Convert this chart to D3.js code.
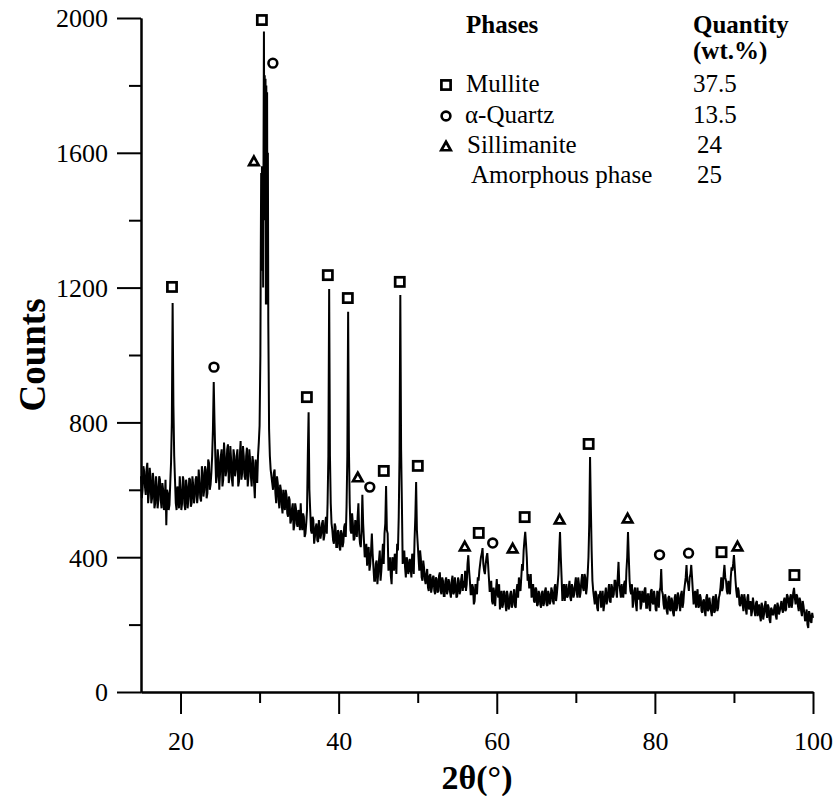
<!DOCTYPE html>
<html>
<head>
<meta charset="utf-8">
<script src="https://cdn.jsdelivr.net/npm/d3@7"></script>
<style>
  html, body { margin: 0; padding: 0; background: #fff; }
  svg { display: block; }
  svg text { font-family: 'Liberation Serif', 'Times New Roman', serif; fill: #000; }
</style>
</head>
<body>
<svg id="chart" width="838" height="796"></svg>
<script>
// ---------- DATA ----------
// scan samples at 15.0, 15.2, 15.4 ... 100.0 (°2θ)
const gridStart = 15, gridStep = 0.2;
const counts = [
  640, 600, 655, 585, 680,   590, 640, 575, 625, 560,   610, 570, 630, 545, 600,   560, 495, 590, 555, 680,
  1154, 700, 560, 610, 545,  600, 560, 625, 540, 610,   575, 630, 560, 615, 580,   640, 585, 620, 565, 650,
  600, 660, 590, 680, 615,   700, 920, 700, 640, 690,   650, 720, 630, 700, 655,   735, 640, 690, 610, 700,
  660, 720, 625, 745, 650,   700, 630, 725, 640, 690,   610, 680, 575, 660, 700,   790, 1540, 1500, 1500, 1150,
  1150, 780, 660, 620, 650,  590, 640, 570, 615, 555,   600, 540, 585, 520, 570,   510, 560, 495, 545, 490,
  530, 560, 480, 520, 470,   540, 830, 540, 470, 510,   460, 500, 445, 490, 470,   510, 465, 520, 560, 1196,
  560, 480, 440, 490, 430,   475, 420, 470, 445, 500,   550, 1128, 560, 470, 500,  455, 500, 520, 470, 430,
  585, 450, 410, 375, 430,   380, 470, 370, 330, 390,   350, 420, 360, 440, 470,   611, 470, 380, 345, 400,
  360, 400, 440, 520, 1178,  560, 410, 370, 400, 350,   395, 340, 400, 450, 623,   440, 360, 395, 330, 370,
  320, 365, 300, 350, 310,   345, 290, 335, 300, 355,   290, 330, 285, 340, 300,   325, 280, 345, 295, 320,
  285, 330, 300, 350, 330,   360, 320, 406, 330, 290,   310, 270, 300, 340, 360,   400, 427, 360, 380, 412,
  340, 300, 270, 310, 255,   335, 280, 245, 300, 260,   295, 240, 285, 255, 300,   260, 305, 250, 320, 340,
  300, 380, 420, 475, 400,   350, 310, 280, 320, 265,   305, 260, 290, 250, 300,   265, 310, 255, 290, 270,
  300, 260, 320, 290, 350,   475, 340, 300, 270, 320,   285, 330, 270, 310, 290,   340, 280, 320, 295, 350,
  300, 340, 310, 400, 697,   420, 300, 260, 290, 240,   280, 250, 300, 260, 310,   275, 320, 265, 310, 290,
  330, 280, 386, 300, 320,   280, 330, 360, 475, 330,   290, 250, 300, 260, 310,   275, 245, 300, 265, 310,
  250, 290, 240, 305, 260,   280, 240, 290, 300, 365,   290, 245, 275, 230, 285,   240, 270, 225, 290, 250,
  285, 240, 300, 265, 320,   377, 320, 340, 377, 300,   290, 250, 305, 255, 280,   235, 275, 225, 290, 245,
  260, 225, 285, 240, 275,   250, 290, 340, 310, 377,   330, 290, 310, 340, 360,   406, 330, 280, 300, 255,
  290, 240, 275, 230, 290,   250, 225, 280, 240, 265,   225, 260, 210, 255, 230,   270, 220, 250, 205, 245,
  230, 260, 215, 255, 240,   270, 235, 280, 245, 285,   250, 290, 265, 309, 260,   285, 240, 270, 225, 255,
  210, 245, 190, 230, 205,
  220
];
// intermediate samples at 15.1, 15.3 ... 99.9 (°2θ)
const midStart = 15.1, midStep = 0.2;
const countsMid = [
  575, 670, 610, 660, 560,   665, 560, 650, 545, 640,   545, 640, 570, 620, 540,   630, 600, 540, 620, 800,
  850, 630, 540, 590, 640,   540, 640, 555, 630, 545,   635, 550, 640, 560, 630,   560, 660, 575, 670, 580,
  670, 575, 690, 600, 650,   780, 800, 620, 720, 600,   700, 610, 740, 640, 720,   620, 730, 630, 720, 640,
  700, 610, 700, 630, 730,   640, 700, 610, 720, 640,   700, 620, 690, 620, 740,   1000, 1560, 1600, 1400, 1300,
  1100, 700, 640, 600, 660,  560, 620, 545, 600, 530,   560, 600, 530, 580, 500,   545, 480, 560, 500, 540,
  480, 500, 530, 460, 500,   700, 600, 480, 520, 440,   490, 450, 510, 455, 500,   450, 500, 470, 700, 700,
  500, 450, 500, 430, 480,   430, 480, 430, 490, 460,   700, 720, 480, 530, 450,   510, 460, 560, 440, 480,
  500, 400, 440, 420, 360,   420, 410, 330, 380, 320,   390, 330, 400, 380, 500,   480, 360, 400, 320, 380,
  410, 350, 420, 700, 720,   380, 420, 340, 390, 360,   370, 410, 350, 520, 480,   400, 420, 340, 390, 335,
  350, 310, 345, 295, 340,   300, 340, 295, 345, 300,   340, 285, 330, 290, 335,   295, 330, 290, 340, 280,
  340, 290, 335, 300, 310,   300, 380, 360, 290, 320,   260, 320, 290, 330, 380,   410, 380, 350, 400, 380,
  300, 330, 260, 290, 300,   290, 320, 280, 250, 300,   260, 300, 245, 290, 250,   290, 255, 300, 280, 310,
  340, 360, 450, 440, 330,   310, 350, 295, 270, 310,   255, 300, 260, 295, 255,   300, 260, 300, 260, 310,
  270, 310, 270, 320, 420,   400, 270, 320, 300, 280,   310, 280, 320, 280, 320,   300, 340, 280, 330, 310,
  350, 290, 350, 500, 550,   330, 280, 300, 250, 290,   300, 270, 240, 290, 260,   300, 270, 320, 280, 330,
  300, 340, 320, 280, 290,   320, 290, 400, 400, 300,   320, 270, 310, 240, 280,   300, 260, 280, 305, 250,
  290, 250, 300, 265, 300,   245, 300, 250, 310, 300,   260, 290, 240, 280, 245,   280, 235, 280, 240, 295,
  260, 290, 250, 300, 340,   330, 300, 350, 340, 260,   300, 280, 250, 290, 240,   270, 240, 280, 240, 280,
  240, 275, 235, 290, 240,   280, 310, 300, 350, 340,   300, 330, 290, 370, 380,   370, 300, 310, 260, 280,
  260, 290, 245, 280, 245,   270, 240, 260, 225, 270,   240, 225, 265, 215, 255,   235, 260, 215, 250, 230,
  250, 225, 265, 230, 255,   245, 270, 240, 290, 265,   280, 250, 295, 280, 290,   255, 280, 240, 270, 235,
  225, 200, 240, 210, 235
];
// extra samples through the strongest reflection (°2θ, counts)
const peakTheta  = [30.15, 30.25, 30.35, 30.45, 30.55, 30.65, 30.75, 30.85, 30.95, 31.05, 31.15];
const peakCounts = [1300, 1250, 1350, 1200, 1960, 1830, 1820, 1800, 1780, 1600, 950];

// phase identification markers (2θ, counts)
const mulliteTheta  = [18.92, 30.29, 35.98, 38.63, 41.16, 45.71, 47.73, 50.01, 57.72, 63.53, 71.62, 88.43, 97.65];
const mulliteCounts = [1202, 1994, 875, 1237, 1169, 656, 1217, 671, 472, 519, 736, 415, 347];
const quartzTheta   = [24.23, 31.68, 43.94, 59.49, 80.59, 84.26];
const quartzCounts  = [964, 1866, 608, 442, 407, 412];
const sillTheta     = [29.28, 42.42, 55.95, 62.01, 67.95, 76.55, 90.45];
const sillCounts    = [1576, 638, 433, 427, 513, 516, 433];

// axes
const xMajorTicks = [20, 40, 60, 80, 100];
const xMinorTicks = [30, 50, 70, 90];
const yMajorTicks = [0, 400, 800, 1200, 1600, 2000];
const yMinorTicks = [200, 600, 1000, 1400, 1800];

// legend table
const phaseNames   = ["Mullite", "α-Quartz", "Sillimanite", "Amorphous phase"];
const phaseSymbols = ["square", "circle", "triangle", null];
const phaseQty     = ["37.5", "13.5", "24", "25"];

// ---------- CHART ----------
const SERIF = "'Liberation Serif', 'Times New Roman', serif";
const svg = d3.select("#chart");
const x = d3.scaleLinear().domain([15, 100]).range([141, 813]);
const y = d3.scaleLinear().domain([0, 2000]).range([692, 18]);

// assemble scan
const r2 = v => Math.round(v * 100) / 100;
let scan = counts.map((c, i) => ({ t: r2(gridStart + i * gridStep), c }));
countsMid.forEach((c, i) => scan.push({ t: r2(midStart + i * midStep), c }));
peakTheta.forEach((t, i) => scan.push({ t, c: peakCounts[i] }));
scan.sort((a, b) => a.t - b.t);

svg.append("path")
  .datum(scan)
  .attr("fill", "none")
  .attr("stroke", "#000")
  .attr("stroke-width", 2)
  .attr("stroke-linejoin", "miter")
  .attr("stroke-miterlimit", 2)
  .attr("d", d3.line().x(d => x(d.t)).y(d => y(d.c)));

// axes
function styleAxis(g) {
  g.attr("font-family", null).attr("font-size", null);
  g.selectAll("path.domain").attr("stroke", "#000").attr("stroke-width", 2);
  g.selectAll(".tick line").attr("stroke", "#000").attr("stroke-width", 2);
  g.selectAll(".tick text").attr("fill", "#000")
    .style("font-family", SERIF).style("font-size", "26px");
}
const gxMinor = svg.append("g").attr("transform", "translate(0,692)")
  .call(d3.axisBottom(x).tickValues(xMinorTicks).tickSize(11).tickSizeOuter(0).tickFormat(""));
styleAxis(gxMinor);
const gx = svg.append("g").attr("transform", "translate(0,692)")
  .call(d3.axisBottom(x).tickValues(xMajorTicks).tickSize(22).tickSizeOuter(0).tickFormat(d3.format("d")));
styleAxis(gx);
gx.selectAll(".tick text").attr("y", 58).attr("dy", 0);

const gyMinor = svg.append("g").attr("transform", "translate(141,0)")
  .call(d3.axisLeft(y).tickValues(yMinorTicks).tickSize(12).tickSizeOuter(0).tickFormat(""));
styleAxis(gyMinor);
const gy = svg.append("g").attr("transform", "translate(141,0)")
  .call(d3.axisLeft(y).tickValues(yMajorTicks).tickSize(24).tickSizeOuter(0).tickPadding(9).tickFormat(d3.format("d")));
styleAxis(gy);
gy.selectAll(".tick text").attr("dy", "0.34em");

// axis titles
svg.append("text")
  .attr("x", 477).attr("y", 789)
  .attr("text-anchor", "middle")
  .style("font-family", SERIF)
  .style("font-size", "34px").style("font-weight", "bold")
  .text("2θ(°)");
svg.append("text")
  .attr("transform", "translate(45,355) rotate(-90)")
  .attr("text-anchor", "middle")
  .style("font-family", SERIF)
  .style("font-size", "37px").style("font-weight", "bold")
  .text("Counts");

// marker drawing
function drawMarker(g, kind, cx, cy) {
  if (kind === "square") {
    g.append("rect").attr("x", cx - 4.6).attr("y", cy - 4.6).attr("width", 9.2).attr("height", 9.2)
      .attr("fill", "#fff").attr("stroke", "#000").attr("stroke-width", 2.7);
  } else if (kind === "circle") {
    g.append("circle").attr("cx", cx).attr("cy", cy).attr("r", 4.4)
      .attr("fill", "#fff").attr("stroke", "#000").attr("stroke-width", 2.6);
  } else if (kind === "triangle") {
    const h = 8.5, w = 9.5;
    g.append("path")
      .attr("d", `M${cx},${cy - h / 2}L${cx + w / 2},${cy + h / 2}L${cx - w / 2},${cy + h / 2}Z`)
      .attr("fill", "#fff").attr("stroke", "#000").attr("stroke-width", 2.7).attr("stroke-linejoin", "miter");
  }
}
const gm = svg.append("g");
mulliteTheta.forEach((t, i) => drawMarker(gm, "square", x(t), y(mulliteCounts[i])));
quartzTheta.forEach((t, i) => drawMarker(gm, "circle", x(t), y(quartzCounts[i])));
sillTheta.forEach((t, i) => drawMarker(gm, "triangle", x(t), y(sillCounts[i])));

// legend table
const lg = svg.append("g").style("font-family", SERIF);
lg.append("text").attr("x", 466).attr("y", 33).style("font-size", "25px").style("font-weight", "bold").text("Phases");
lg.append("text").attr("x", 693).attr("y", 33).style("font-size", "25px").style("font-weight", "bold").text("Quantity");
lg.append("text").attr("x", 693).attr("y", 59).style("font-size", "25px").style("font-weight", "bold").text("(wt.%)");
const rowBase = [92, 123, 153, 183];
const rowX = [466, 465, 467, 471];
phaseNames.forEach((name, i) => {
  if (phaseSymbols[i]) drawMarker(lg, phaseSymbols[i], 446, rowBase[i] - 7);
  lg.append("text").attr("x", rowX[i]).attr("y", rowBase[i]).style("font-size", "25px").text(name);
  lg.append("text").attr("x", i < 2 ? 693 : 697).attr("y", rowBase[i]).style("font-size", "25px").text(phaseQty[i]);
});
</script>
</body>
</html>
